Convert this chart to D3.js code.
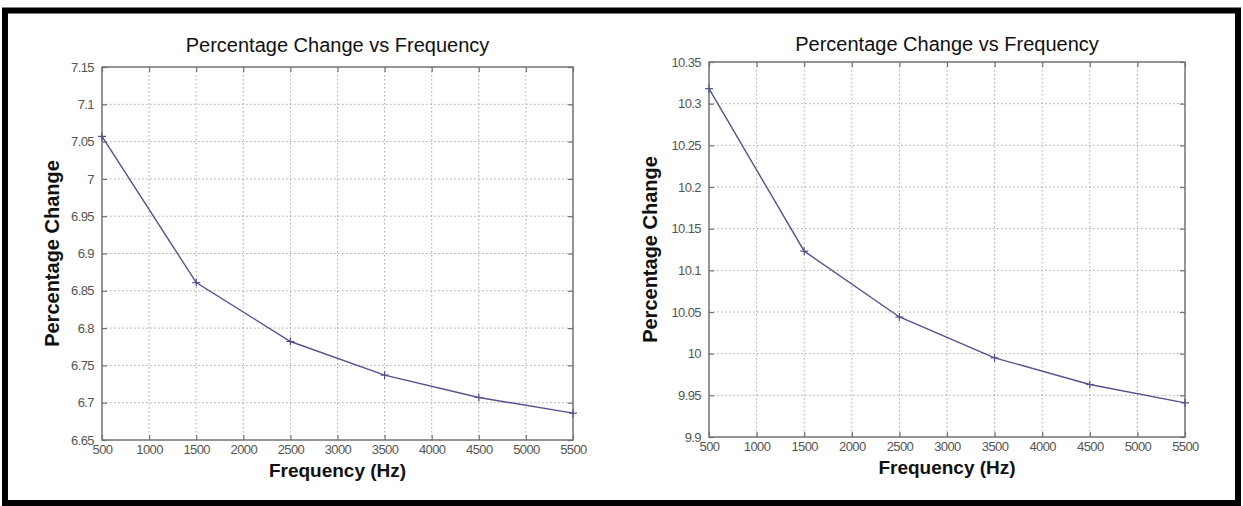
<!DOCTYPE html>
<html>
<head>
<meta charset="utf-8">
<script src="https://cdn.jsdelivr.net/npm/d3@7"></script>
<style>
  html, body { margin: 0; padding: 0; background: #fff; }
  svg { display: block; }
  text { font-family: "Liberation Sans", Arial, Helvetica, sans-serif; }
</style>
</head>
<body>
<svg id="chart" width="1243" height="506"></svg>
<script>
// ---- data ----
const frequencies = [500, 1500, 2500, 3500, 4500, 5500];
const leftValues  = [7.057, 6.861, 6.782, 6.737, 6.707, 6.686];
const rightValues = [10.318, 10.123, 10.044, 9.995, 9.963, 9.941];
const xTicks = [500, 1000, 1500, 2000, 2500, 3000, 3500, 4000, 4500, 5000, 5500];
const leftYTicks  = [6.65, 6.7, 6.75, 6.8, 6.85, 6.9, 6.95, 7, 7.05, 7.1, 7.15];
const rightYTicks = [9.9, 9.95, 10, 10.05, 10.1, 10.15, 10.2, 10.25, 10.3, 10.35];
const titleText = "Percentage Change vs Frequency";
const xLabelText = "Frequency (Hz)";
const yLabelText = "Percentage Change";

const svg = d3.select("#chart");
const W = 1243, H = 506;

// outer black frame
svg.append("rect").attr("x", 0).attr("y", 0).attr("width", W).attr("height", H).attr("fill", "#fff");
svg.append("rect")
  .attr("x", 5).attr("y", 10.5).attr("width", 1233).attr("height", 492.5)
  .attr("fill", "none").attr("stroke", "#000").attr("stroke-width", 6);

function panel(box, values, yTicks, yLabelX, titleY) {
  const x = d3.scaleLinear().domain([500, 5500]).range([box.l, box.r]);
  const y = d3.scaleLinear().domain([yTicks[0], yTicks[yTicks.length - 1]]).range([box.b, box.t]);
  const g = svg.append("g");
  const axisColor = "#727272";
  const gridColor = "#a8a8a8";

  // grid
  g.selectAll(".vg").data(xTicks.slice(1, -1)).join("line")
    .attr("x1", d => x(d)).attr("x2", d => x(d))
    .attr("y1", box.t).attr("y2", box.b)
    .attr("stroke", gridColor).attr("stroke-width", 1).attr("stroke-dasharray", "1.5,2.5");
  g.selectAll(".hg").data(yTicks.slice(1, -1)).join("line")
    .attr("y1", d => y(d)).attr("y2", d => y(d))
    .attr("x1", box.l).attr("x2", box.r)
    .attr("stroke", gridColor).attr("stroke-width", 1).attr("stroke-dasharray", "1.5,2.5");

  // axes via d3 axis (inward ticks)
  const fmt = d => String(+d.toFixed(2));
  const bottom = g.append("g").attr("transform", `translate(0,${box.b})`)
    .call(d3.axisBottom(x).tickValues(xTicks).tickSize(-5).tickPadding(5).tickFormat(d => d));
  const top = g.append("g").attr("transform", `translate(0,${box.t})`)
    .call(d3.axisTop(x).tickValues(xTicks).tickSize(-5).tickFormat(""));
  const left = g.append("g").attr("transform", `translate(${box.l},0)`)
    .call(d3.axisLeft(y).tickValues(yTicks).tickSize(-5).tickPadding(8).tickFormat(fmt));
  const right = g.append("g").attr("transform", `translate(${box.r},0)`)
    .call(d3.axisRight(y).tickValues(yTicks).tickSize(-5).tickFormat(""));
  [bottom, top, left, right].forEach(a => {
    a.select("path").remove();
    a.selectAll("line").attr("stroke", axisColor).attr("stroke-width", 1.2);
    a.selectAll("text").attr("fill", "#555").attr("font-size", 13)
      .attr("letter-spacing", "-0.6")
      .style("font-family", '"Liberation Sans", Arial, sans-serif');
  });
  g.append("rect").attr("x", box.l).attr("y", box.t)
    .attr("width", box.r - box.l).attr("height", box.b - box.t)
    .attr("fill", "none").attr("stroke", axisColor).attr("stroke-width", 1.5);

  // data line
  const lineColor = "#52528e";
  const line = d3.line().x((d, i) => x(frequencies[i])).y(d => y(d));
  g.append("path").datum(values).attr("d", line)
    .attr("fill", "none").attr("stroke", lineColor).attr("stroke-width", 1.4);
  // + markers
  const ms = 4;
  const mk = g.selectAll(".mk").data(values).join("g")
    .attr("transform", (d, i) => `translate(${x(frequencies[i])},${y(d)})`);
  mk.append("line").attr("x1", -ms).attr("x2", ms).attr("y1", 0).attr("y2", 0)
    .attr("stroke", lineColor).attr("stroke-width", 1.2);
  mk.append("line").attr("x1", 0).attr("x2", 0).attr("y1", -ms).attr("y2", ms)
    .attr("stroke", lineColor).attr("stroke-width", 1.2);

  const cx = (box.l + box.r) / 2;
  g.append("text").attr("x", cx).attr("y", titleY)
    .attr("text-anchor", "middle").attr("font-size", 20).attr("fill", "#111")
    .text(titleText);
  g.append("text").attr("x", cx).attr("y", box.b + 37)
    .attr("text-anchor", "middle").attr("font-size", 19).attr("font-weight", "bold").attr("fill", "#111")
    .text(xLabelText);
  g.append("text")
    .attr("transform", `translate(${yLabelX},${(box.t + box.b) / 2}) rotate(-90)`)
    .attr("text-anchor", "middle").attr("font-size", 20).attr("font-weight", "bold").attr("fill", "#111")
    .text(yLabelText);
}

panel({ l: 102, r: 573, t: 67, b: 440 }, leftValues, leftYTicks, 59, 52);
panel({ l: 709, r: 1185, t: 62, b: 437 }, rightValues, rightYTicks, 657, 51);
</script>
</body>
</html>
